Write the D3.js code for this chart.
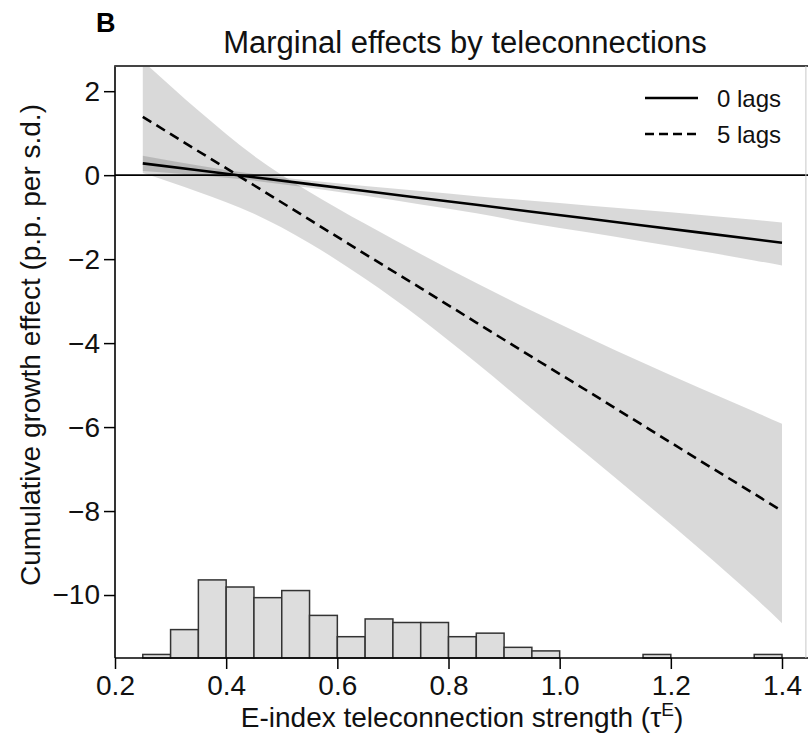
<!DOCTYPE html>
<html><head><meta charset="utf-8">
<script src="https://cdn.jsdelivr.net/npm/d3@7"></script>
<style>body{margin:0;background:#fff}</style>
</head><body>
<svg id="c" width="808" height="738"></svg>
<script>
// ---- data ----
const xGrid = [0.25, 0.35, 0.45, 0.55, 0.65, 0.75, 0.85, 0.95, 1.05, 1.15, 1.25, 1.35, 1.40];
// 0 lags
const est0 = [0.28, 0.116, -0.049, -0.213, -0.377, -0.542, -0.706, -0.870, -1.034, -1.199, -1.363, -1.527, -1.61];
const hi0  = [0.46, 0.23, 0.03, -0.13, -0.26, -0.38, -0.50, -0.61, -0.72, -0.83, -0.94, -1.06, -1.13];
const lo0  = [0.10, 0.00, -0.13, -0.30, -0.49, -0.70, -0.91, -1.15, -1.36, -1.58, -1.80, -2.03, -2.15];
// 5 lags
const est5 = [1.39, 0.57, -0.24, -1.06, -1.88, -2.69, -3.51, -4.33, -5.14, -5.96, -6.78, -7.59, -8.00];
const hi5  = [2.72, 1.54, 0.46, -0.40, -1.16, -1.88, -2.57, -3.23, -3.86, -4.47, -5.06, -5.63, -5.92];
const lo5  = [0.05, -0.40, -0.92, -1.62, -2.47, -3.42, -4.47, -5.57, -6.66, -7.76, -8.88, -10.05, -10.67];
// histogram of teleconnection strength (bin starts, width 0.05)
const histBins   = [0.25,0.30,0.35,0.40,0.45,0.50,0.55,0.60,0.65,0.70,0.75,0.80,0.85,0.90,0.95,1.00,1.05,1.10,1.15,1.20,1.25,1.30,1.35];
const histCounts = [1, 8, 22, 20, 17, 19, 12, 6, 11, 10, 10, 6, 7, 3, 2, 0, 0, 0, 1, 0, 0, 0, 1];
const binWidth = 0.05;
const xTicks = [0.2, 0.4, 0.6, 0.8, 1.0, 1.2, 1.4];
const yTicks = [2, 0, -2, -4, -6, -8, -10];
const legendLabels = ["0 lags", "5 lags"];

// ---- layout ----
const font = "'Liberation Sans', Arial, Helvetica, sans-serif";
const svg = d3.select("#c");
const xLeft = 0.2, xRight = 1.443, yBot = -11.5, yTop = 2.6;
const x = d3.scaleLinear().domain([0.2, 1.4]).range([115, 782]);
const y = d3.scaleLinear().domain([yBot, yTop]).range([658, 66]);
const hy = d3.scaleLinear().domain([0, 22]).range([y(yBot), y(-9.64)]);

svg.append("defs").append("clipPath").attr("id", "pc")
  .append("rect")
  .attr("x", x(xLeft)).attr("y", y(yTop))
  .attr("width", x(xRight) - x(xLeft)).attr("height", y(yBot) - y(yTop));

const plot = svg.append("g").attr("clip-path", "url(#pc)");

const band = (lo, hi) => d3.area()
  .curve(d3.curveMonotoneX)
  .x((d, i) => x(xGrid[i]))
  .y0((d, i) => y(lo[i]))
  .y1((d, i) => y(hi[i]))(xGrid);

plot.append("path").attr("d", band(lo5, hi5)).attr("fill", "#000").attr("fill-opacity", 0.15);
plot.append("path").attr("d", band(lo0, hi0)).attr("fill", "#000").attr("fill-opacity", 0.15);

// zero line
svg.append("line").attr("x1", x(xLeft)).attr("x2", 808).attr("y1", y(0)).attr("y2", y(0))
  .attr("stroke", "#000").attr("stroke-width", 1.6);

const line = vals => d3.line().x((d, i) => x(xGrid[i])).y((d, i) => y(vals[i]))(xGrid);
plot.append("path").attr("d", line(est0)).attr("fill", "none").attr("stroke", "#000").attr("stroke-width", 2.6);
plot.append("path").attr("d", line(est5)).attr("fill", "none").attr("stroke", "#000").attr("stroke-width", 2.6)
  .attr("stroke-dasharray", "10,6");

// histogram
svg.append("g").selectAll("rect")
  .data(histBins.map((b, i) => ({b, c: histCounts[i]})).filter(d => d.c > 0))
  .join("rect")
  .attr("x", d => x(d.b))
  .attr("width", d => x(d.b + binWidth) - x(d.b))
  .attr("y", d => hy(d.c))
  .attr("height", d => hy(0) - hy(d.c))
  .attr("fill", "#dddddd").attr("stroke", "#333").attr("stroke-width", 1.5);

// axes
const xa = svg.append("g").attr("transform", `translate(0,${y(yBot)})`)
  .call(d3.axisBottom(x).tickValues(xTicks).tickFormat(d3.format(".1f")).tickSize(11).tickPadding(6));
const ya = svg.append("g").attr("transform", `translate(${x(xLeft)},0)`)
  .call(d3.axisLeft(y).tickValues(yTicks).tickFormat(d3.format("d")).tickSize(11).tickPadding(4));
[xa, ya].forEach(g => {
  g.select(".domain").remove();
  g.selectAll(".tick line").attr("stroke", "#000").attr("stroke-width", 1.5);
  g.selectAll(".tick text").attr("font-family", font).attr("font-size", 28).attr("fill", "#111");
});

// frame
svg.append("line").attr("x1", x(xLeft)).attr("x2", 808).attr("y1", y(yBot)).attr("y2", y(yBot))
  .attr("stroke", "#000").attr("stroke-width", 1.6);
svg.append("line").attr("x1", x(xLeft)).attr("x2", x(xLeft)).attr("y1", y(yTop)).attr("y2", y(yBot))
  .attr("stroke", "#000").attr("stroke-width", 1.6);
svg.append("line").attr("x1", x(xLeft) - 0.8).attr("x2", 808).attr("y1", y(yTop)).attr("y2", y(yTop))
  .attr("stroke", "#444").attr("stroke-width", 2);
svg.append("line").attr("x1", x(xRight)).attr("x2", x(xRight)).attr("y1", y(yTop)).attr("y2", y(yBot))
  .attr("stroke", "#c8c8c8").attr("stroke-width", 1);

// legend
const lg = svg.append("g");
legendLabels.forEach((lab, i) => {
  const ly = 98 + i * 36;
  lg.append("line").attr("x1", 645).attr("x2", 698).attr("y1", ly).attr("y2", ly)
    .attr("stroke", "#000").attr("stroke-width", 2.4)
    .attr("stroke-dasharray", i === 1 ? "9,5" : null);
  lg.append("text").attr("x", 717).attr("y", ly).attr("dy", "0.36em")
    .attr("font-family", font).attr("font-size", 24).attr("fill", "#111").text(lab);
});

// titles
svg.append("text").attr("x", 465).attr("y", 53).attr("text-anchor", "middle")
  .attr("font-family", font).attr("font-size", 31).attr("fill", "#111")
  .text("Marginal effects by teleconnections");
svg.append("text").attr("x", 96).attr("y", 32)
  .attr("font-family", font).attr("font-size", 27).attr("font-weight", "bold").attr("fill", "#000")
  .text("B");
const xt = svg.append("text").attr("x", 462).attr("y", 727).attr("text-anchor", "middle")
  .attr("font-family", font).attr("font-size", 28).attr("fill", "#111");
xt.append("tspan").text("E-index teleconnection strength (τ");
xt.append("tspan").attr("font-size", 19).attr("dy", -11).text("E");
xt.append("tspan").attr("dy", 11).text(")");
svg.append("text").attr("transform", "translate(40,345) rotate(-90)").attr("text-anchor", "middle")
  .attr("font-family", font).attr("font-size", 28).attr("fill", "#111")
  .text("Cumulative growth effect (p.p. per s.d.)");
</script>
</body></html>
